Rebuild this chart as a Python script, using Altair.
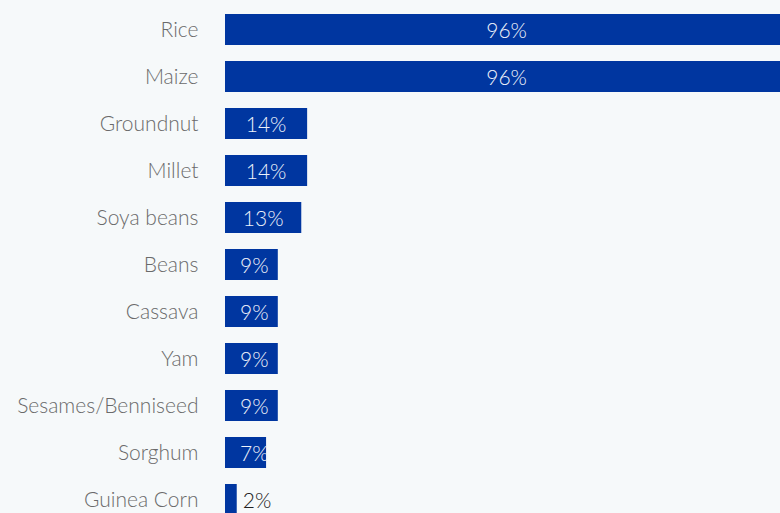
import json
import altair as alt
import pandas as pd

categories = ["Rice", "Maize", "Groundnut", "Millet", "Soya beans", "Beans",
              "Cassava", "Yam", "Sesames/Benniseed", "Sorghum", "Guinea Corn"]
values = [96, 96, 14, 14, 13, 9, 9, 9, 9, 7, 2]

df = pd.DataFrame({"crop": categories, "value": values, "idx": list(range(len(categories)))})

FONT = "Lato"
BAR = "#0036a0"

x_scale = alt.Scale(domain=[0, 94.6], nice=False, zero=False)
y_scale = alt.Scale(domain=[-0.6277, 10.287], reverse=True, nice=False, zero=False)

base = alt.Chart(df)

bars = base.transform_calculate(
    y0="datum.idx - 0.33", y1="datum.idx + 0.33", x0="0"
).mark_rect(color=BAR, clip=True).encode(
    x=alt.X("x0:Q", scale=x_scale, axis=None),
    x2="value:Q",
    y=alt.Y("y0:Q", scale=y_scale,
            axis=alt.Axis(values=list(range(len(categories))),
                          labelExpr=json.dumps(categories) + "[datum.value]",
                          domain=False, ticks=False, grid=False, title=None,
                          labelPadding=27, labelFontSize=21, labelColor="#6a6a6a",
                          labelFont=FONT, labelFontWeight=300, labelBaseline="middle",
                          labelLimit=400, labelOffset=1)),
    y2="y1:Q",
)

inside = base.transform_filter("datum.value >= 5").transform_calculate(
    pos="max(datum.value / 2, 5)", lab="format(datum.value, 'd') + '%'"
).mark_text(font=FONT, fontSize=21, fontWeight=300, color="#eef2fa", align="center",
            baseline="middle", clip=True, dy=2).encode(
    x=alt.X("pos:Q", scale=x_scale),
    y=alt.Y("idx:Q", scale=y_scale),
    text="lab:N",
)

outside = base.transform_filter("datum.value < 5").transform_calculate(
    lab="format(datum.value, 'd') + '%'"
).mark_text(font=FONT, fontSize=21, fontWeight=300, color="#222222", align="left",
            baseline="middle", dx=6, dy=2).encode(
    x=alt.X("value:Q", scale=x_scale),
    y=alt.Y("idx:Q", scale=y_scale),
    text="lab:N",
)

axis_line = base.transform_aggregate(n="count()").transform_calculate(
    a="-0.5", b="10.5"
).mark_rule(color="#d3d7db", strokeWidth=1.5, clip=True).encode(
    x=alt.value(-1),
    y=alt.Y("a:Q", scale=y_scale),
    y2="b:Q",
)

chart = alt.layer(axis_line, bars, inside, outside).properties(
    width=555, height=513,
    autosize=alt.AutoSizeParams(type="none"),
    padding={"left": 225, "top": 0, "right": 0, "bottom": 0},
    background="#f6f9fa",
).configure_view(stroke=None)

chart.save("out.html", embed_options={"renderer": "svg", "actions": False})
